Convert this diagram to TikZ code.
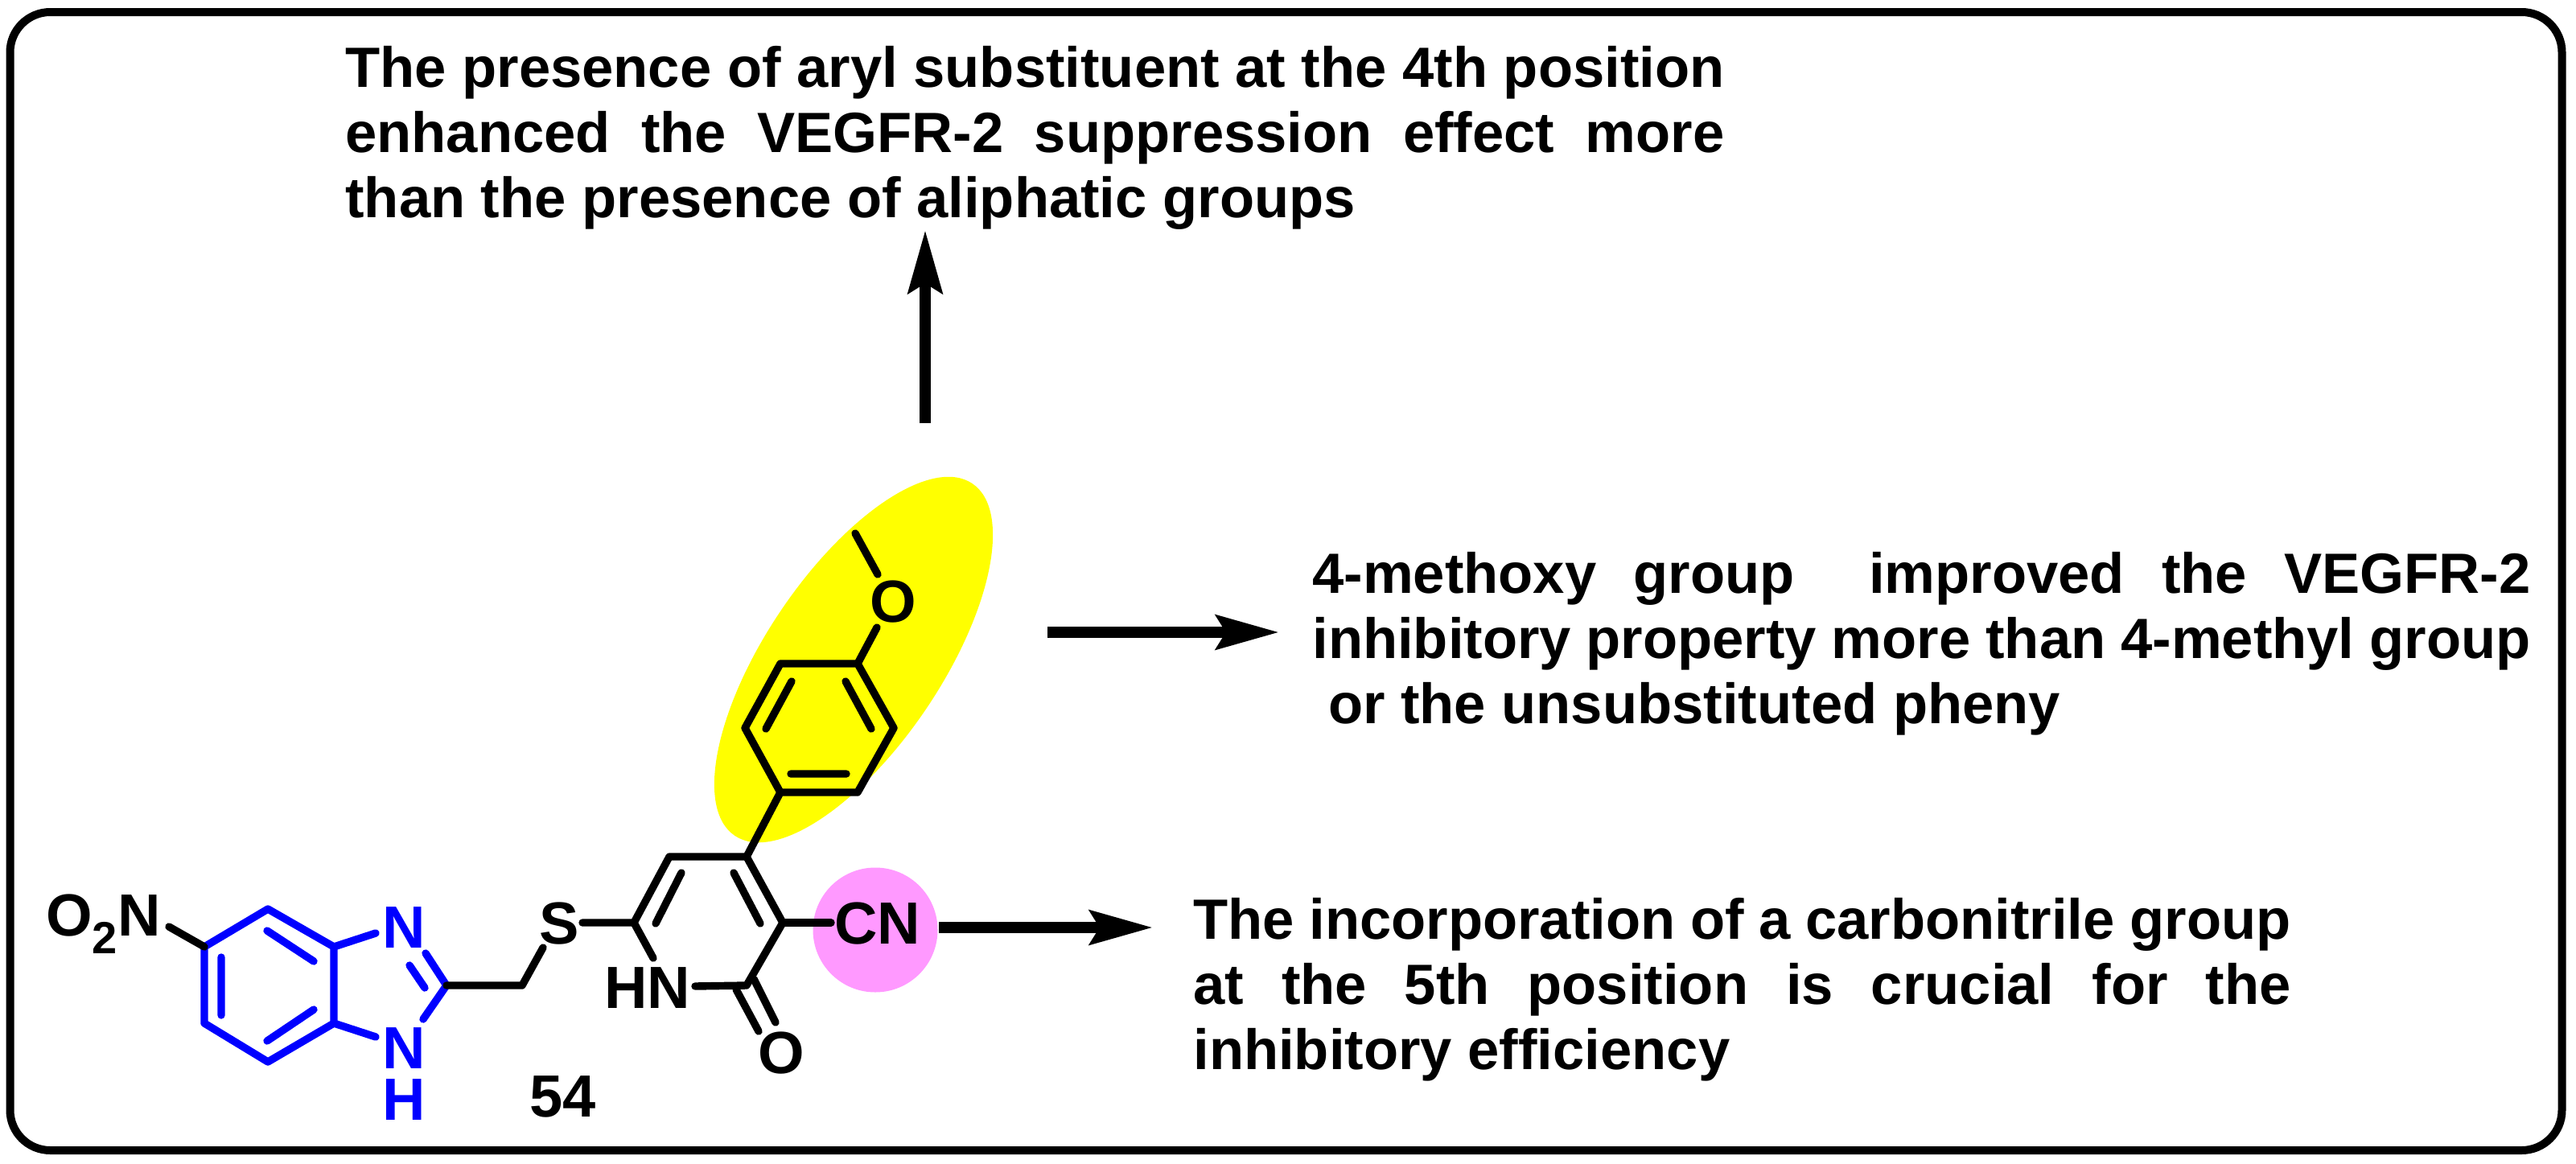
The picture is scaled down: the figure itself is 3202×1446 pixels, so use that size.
\documentclass[tikz,border=0pt]{standalone}
\usepackage{fontspec}
\setmainfont{Liberation Sans}
\definecolor{hlyellow}{RGB}{255,255,0}
\definecolor{hlpink}{RGB}{255,153,255}
\definecolor{bondblue}{RGB}{0,0,255}
\newcommand{\jl}[2]{\hbox to #1{#2}}
\usetikzlibrary{arrows.meta}
\tikzset{
  bond/.style={line width=4.7pt,line cap=round,line join=round,black},
  bluebond/.style={bond,bondblue},
  atom/.style={font=\bfseries\fontsize{37}{32}\selectfont,inner sep=0pt,black},
  blueatom/.style={atom,text=bondblue,align=center},
  para/.style={font=\bfseries\fontsize{35.3}{40.5}\selectfont,inner sep=0pt,anchor=north west,align=left},
  bigarrow/.style={line width=7pt,-{Stealth[length=39pt,width=21pt,inset=6pt]},black},
}
\begin{document}
\begin{tikzpicture}[x=0.5pt,y=-0.5pt]
\useasboundingbox (0,0) rectangle (3202,1446);
\fill[white] (0,0) rectangle (3202,1446);
\draw[line width=5pt,rounded corners=25pt] (12.5,15) rectangle (3184.5,1430);
\fill[hlyellow] (1061,820) ellipse[x radius=264,y radius=109,rotate=56];
\fill[hlpink] (1088,1156) circle (77.5);
% coordinates
\foreach \n/\x/\y in {a1/254/1177,a2/333/1130,a3/415/1177,a4/415/1272,a5/333/1320,a6/254/1272,c2/555/1225,ch/649/1225,
 p6/788/1147,p5/832/1065,p4/928/1065,p3/973/1147,p2/928/1225,
 r1/970/985,r2/926/905,r3/970/825,r4/1066/825,r5/1111/905,r6/1066/985,
 n1e/467/1160,n3e/467/1289,c2n/529/1185,c2ni/509/1200,c2nj/528/1228,c2l/526/1267,
 b1a/275/1190,b1b/275/1262,b2a/332/1157,b2b/390/1195,b3a/390/1255,b3b/332/1294,
 ono/210/1152,chs/675/1178,sp/724/1147,pna/812/1191,pnb/864/1226,
 pi1a/815/1148,pi1b/847/1085,pi2a/912/1085,pi2b/945/1148,
 o1a/915/1230,o1b/943/1282,o2a/937/1217,o2b/964/1271,
 ri1a/984/847,ri1b/952/906,ri2a/1051/847,ri2b/1083/906,ri3a/983/962,ri3b/1052/962,
 oa/1090/780,me1/1091/714,me2/1063/663,cna/1033/1147,
 arrA1/1150/526,arrA2/1150/286,arrB1/1302/786,arrB2/1590/786,arrC1/1167/1153,arrC2/1433/1153}
  {\coordinate (\n) at (\x,\y);}
% atoms
\node[atom,anchor=base west] (no2) at (57,1163) {O\raisebox{-0.3em}{\fontsize{28}{30}\selectfont 2}N};
\node[blueatom] (n1) at (502,1153) {N};
\node[blueatom] (n3) at (502,1335) {N\\H};
\node[atom] (s) at (695,1148) {S};
\node[atom] (nh) at (805,1228) {HN};
\node[atom] (o) at (971,1309) {O};
\node[atom] (ome) at (1110,748) {O};
\node[atom] (cn) at (1091,1148) {CN};
\node[atom] (lab) at (700,1363) {54};
% blue bonds
\draw[bluebond] (a1)--(a2)--(a3)--(a4)--(a5)--(a6)--cycle;
\draw[bluebond] (b1a)--(b1b) (b2a)--(b2b) (b3a)--(b3b);
\draw[bluebond] (a3)--(n1e) (a4)--(n3e);
\draw[bluebond] (c2n)--(c2) (c2ni)--(c2nj) (c2)--(c2l);
% black bonds
\draw[bond] (ono)--(a1);
\draw[bond] (c2)--(ch)--(chs);
\draw[bond] (sp)--(p6)--(p5)--(p4)--(p3)--(p2)--(pnb);
\draw[bond] (p6)--(pna);
\draw[bond] (pi1a)--(pi1b) (pi2a)--(pi2b);
\draw[bond] (o1a)--(o1b) (o2a)--(o2b);
\draw[bond] (p3)--(cna);
\draw[bond] (p4)--(r1);
\draw[bond] (r1)--(r2)--(r3)--(r4)--(r5)--(r6)--cycle;
\draw[bond] (ri1a)--(ri1b) (ri2a)--(ri2b) (ri3a)--(ri3b);
\draw[bond] (r4)--(oa) (me1)--(me2);
% arrows
\draw[bigarrow] (arrA1)--(arrA2);
\draw[bigarrow] (arrB1)--(arrB2);
\draw[bigarrow] (arrC1)--(arrC2);
% texts
\node[para] (t1) at (429,57) {\jl{857pt}{The presence of aryl substituent at the 4th position}\\\jl{857pt}{enhanced the VEGFR-2 suppression effect more}\\than the presence of aliphatic groups};
\node[para] (t2) at (1631,686) {\jl{757pt}{4-methoxy group \ improved the VEGFR-2}\\\jl{757pt}{inhibitory property more than 4-methyl group}\\\ or the unsubstituted pheny};
\node[para] (t3) at (1483,1116) {\jl{682pt}{The incorporation of a carbonitrile group}\\\jl{682pt}{at the 5th position is crucial for the}\\inhibitory efficiency};
\end{tikzpicture}
\end{document}
